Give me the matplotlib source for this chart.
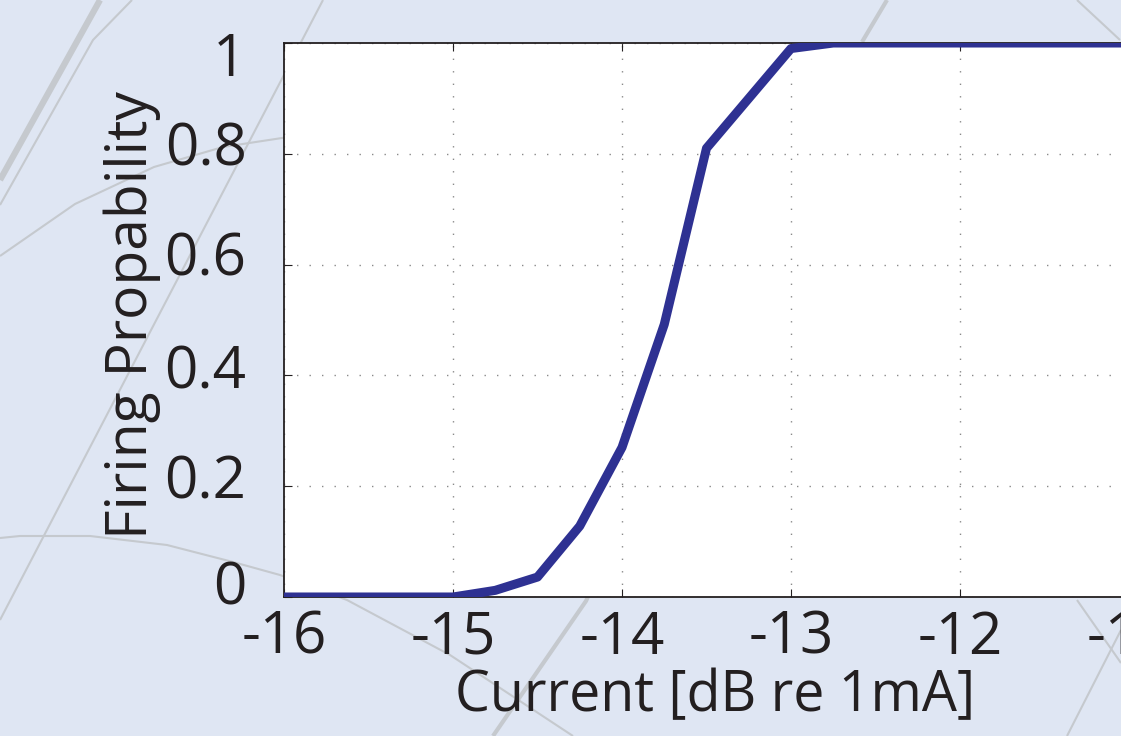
import numpy as np
import matplotlib
matplotlib.use("Agg")
import matplotlib.pyplot as plt
from matplotlib.lines import Line2D
from matplotlib.transforms import ScaledTranslation

# firing probability vs. stimulus current
current_db = [-16.0, -15.75, -15.5, -15.25, -15.0, -14.75, -14.5, -14.25, -14.0,
              -13.75, -13.5, -13.25, -13.0, -12.75, -12.5, -12.25, -12.0, -11.75,
              -11.5, -11.25, -11.0, -10.75, -10.5, -10.25, -10.0]
firing_prob = [0.0, 0.0, 0.0, 0.0, 0.0, 0.012, 0.036, 0.128, 0.27,
               0.492, 0.81, 0.90, 0.99, 1.0, 1.0, 1.0, 1.0, 1.0,
               1.0, 1.0, 1.0, 1.0, 1.0, 1.0, 1.0]
x_ticks = [-16, -15, -14, -13, -12, -11, -10]
y_ticks = [0, 0.2, 0.4, 0.6, 0.8, 1]
y_tick_labels = ["0", "0.2", "0.4", "0.6", "0.8", "1"]

W, H = 1121, 736
BG = "#dfe6f3"
INK = "#231f20"
plt.rcParams["font.family"] = ["Open Sans", "DejaVu Sans"]
plt.rcParams["axes.unicode_minus"] = False

fig = plt.figure(figsize=(W / 100, H / 100), dpi=100, facecolor=BG)


def deco(points, lw=1.5, color="#c5c9ce"):
    # background decoration, given in pixel coords of the picture
    xs = [p[0] / W for p in points]
    ys = [1 - p[1] / H for p in points]
    fig.add_artist(Line2D(xs, ys, transform=fig.transFigure, lw=lw,
                          color=color, zorder=-1, solid_capstyle="butt"))


deco([(100, 0), (0, 180)], lw=4.5)
deco([(132, 0), (93, 40), (0, 205)])
deco([(0, 256), (75, 204), (154, 167), (223, 147), (282, 138), (340, 130)])
deco([(323, 0), (0, 620)])
deco([(0, 538), (20, 536), (90, 536), (167, 545), (233, 562), (280, 575),
      (347, 600), (450, 655), (573, 736)])
deco([(600, 570), (586, 601), (493, 736)], lw=3)
deco([(887, 0), (862, 42)], lw=3)
deco([(1077, 0), (1120, 40)])
deco([(1077, 600), (1121, 663)])
deco([(1121, 630), (1067, 736)])

ax = fig.add_axes([284 / W, 1 - 597 / H, 1014 / W, 554 / H])
ax.set_facecolor("white")
ax.plot(current_db, firing_prob, color="#2e3192", lw=6.5, zorder=3)

ax.set_xlim(-16, -10)
ax.set_ylim(0, 1)
ax.set_xticks(x_ticks)
ax.set_yticks(y_ticks)
ax.set_yticklabels(y_tick_labels)
ax.grid(True, color="#8a8a8a", linestyle=(0, (1, 8)), lw=1.0)
ax.tick_params(direction="in", length=6, width=0.8, colors=INK,
               labelsize=42, top=True, right=True)
ax.tick_params(axis="x", pad=9)
ax.tick_params(axis="y", pad=27)
for side in ax.spines.values():
    side.set_color(INK)
    side.set_linewidth(1.3)

# y tick labels are nudged off their ticks in the original (pixels, + = up)
nudges = [15, 10, 9, 11, 11, -11]
for lbl, dy in zip(ax.get_yticklabels(), nudges):
    lbl.set_transform(lbl.get_transform()
                      + ScaledTranslation(0, dy / 100, fig.dpi_scale_trans))

ax.set_xlabel("Current [dB re 1mA]", fontsize=40, color=INK, va="center")
ax.xaxis.set_label_coords((715 - 284) / 1014, (597 - 697) / 554)
ax.set_ylabel("Firing Propability", fontsize=41, color=INK, va="center")
ax.yaxis.set_label_coords((132 - 284) / 1014, (597 - 315) / 554)

fig.savefig("out.png", dpi=100, facecolor=BG)
